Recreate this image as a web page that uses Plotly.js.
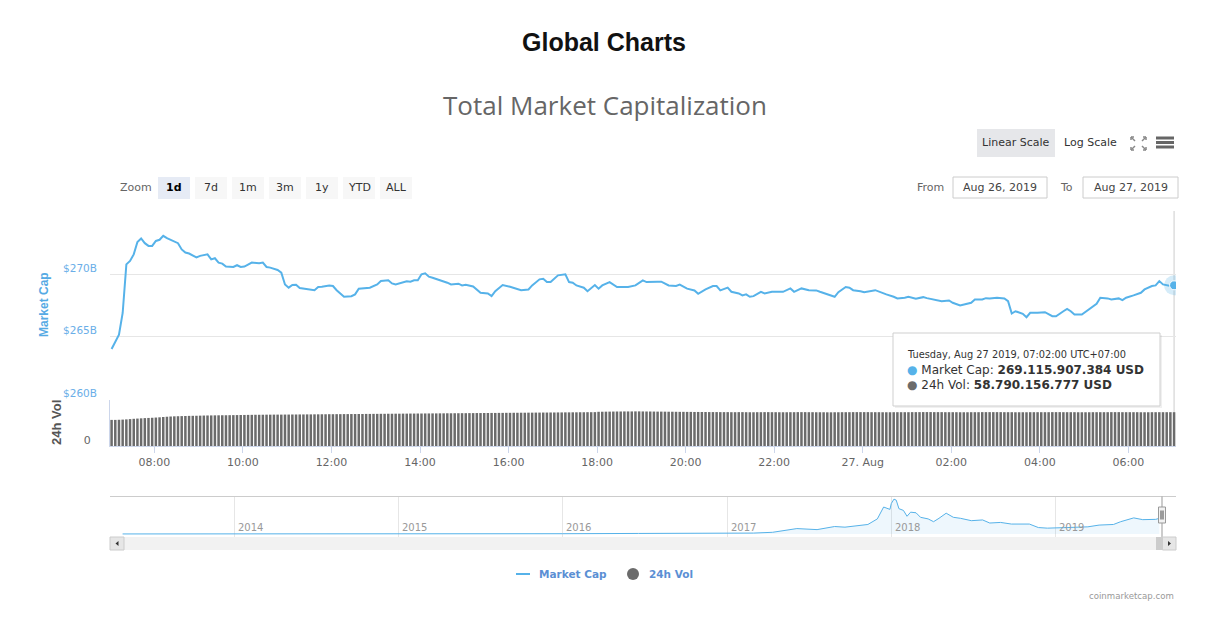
<!DOCTYPE html>
<html><head><meta charset="utf-8">
<script src="https://cdn.plot.ly/plotly-3.0.1.min.js"></script>
<style>html,body{margin:0;padding:0;background:#fff;}#chart{width:1220px;height:618px;}</style>
</head><body><div id="chart"></div>
<script>
// ---------- DATA ----------
// Market cap (USD billions), sampled at 5-minute step indices from 2019-08-26 07:02 (UTC+07:00)
const mcapStep = [0,2,3,4,5,6,7,8,9,10,11,12,13,14,15,17,18,19,20,21,22,23,24,26,27,28,29,30,31,33,34,35,36,38,40,41,42,43,45,46,47,48,49,50,51,53,55,56,57,59,60,61,62,63,65,66,67,69,70,72,73,75,76,77,79,80,81,82,83,84,85,86,87,89,90,91,92,94,95,96,98,99,100,102,103,104,106,108,109,111,113,114,116,117,118,119,121,123,124,125,126,128,129,131,132,133,135,137,140,142,144,145,148,149,151,153,154,156,158,159,161,163,164,165,167,168,170,171,172,173,174,176,177,179,182,183,184,185,187,189,191,192,194,196,197,199,200,201,203,204,207,208,210,212,213,215,216,218,220,221,223,225,227,228,230,231,233,234,236,237,238,240,242,243,244,245,247,248,249,251,253,255,256,258,259,260,261,263,265,267,268,270,271,273,274,275,277,279,280,282,283,284,285,287,288];
const mcapB = [264.01,265.16,266.9,270.8,271.07,271.6,272.6,272.88,272.5,272.28,
272.28,272.68,272.77,273.09,272.9,272.63,272.5,272.0,271.75,271.67,
271.48,271.35,271.48,271.6,271.2,271.29,270.94,270.86,270.62,270.59,
270.73,270.59,270.62,270.94,270.89,270.94,270.59,270.54,270.35,270.14,
269.19,268.93,269.14,269.17,268.9,268.79,268.73,268.98,269.0,269.11,
269.06,268.73,268.47,268.2,268.25,268.39,268.85,268.87,268.93,269.19,
269.46,269.52,269.27,269.19,269.38,269.44,269.41,269.52,269.52,270.0,
270.08,269.81,269.73,269.54,269.46,269.33,269.19,269.25,269.11,269.17,
269.03,268.79,268.52,268.47,268.25,268.65,269.14,269.0,268.93,268.73,
268.79,269.11,269.6,269.65,269.38,269.38,269.92,270.0,269.38,269.33,
269.11,268.93,268.65,269.14,268.85,269.11,269.38,268.98,268.98,269.11,
269.52,269.38,269.41,269.41,269.11,269.06,269.17,268.85,268.71,268.44,
268.79,269.06,269.06,268.71,268.93,268.6,268.47,268.31,268.39,268.2,
268.25,268.6,268.47,268.6,268.6,268.71,268.87,268.6,268.87,268.73,
268.71,268.6,268.39,268.2,268.57,268.98,268.93,268.73,268.65,268.57,
268.73,268.6,268.39,268.2,268.07,268.12,268.2,268.04,268.17,268.09,
267.98,267.85,267.9,267.72,267.5,267.58,267.72,267.98,267.98,268.09,
268.07,268.12,268.07,267.85,266.86,267.04,266.83,266.56,266.91,266.91,
266.96,266.64,266.64,267.04,267.23,267.04,266.78,266.78,267.18,267.64,
268.12,268.07,267.98,268.07,267.93,268.12,268.31,268.52,268.79,269.06,
269.11,269.46,269.19,269.06,269.12];

// 24h volume (USD billions), one bar every 5 minutes from 07:02 (rows = hours)
const volB = [
45.4,45.4,45.6,45.9,46.3,46.8,47.3,47.7,48.1,48.5,48.8,49.1,
49.5,49.9,50.4,50.9,51.3,51.6,51.8,52.0,52.2,52.4,52.5,52.6,
52.8,53.0,53.1,53.2,53.3,53.4,53.5,53.5,53.6,53.7,53.8,53.9,
54.0,54.1,54.2,54.3,54.3,54.4,54.5,54.5,54.6,54.6,54.6,54.7,
54.7,54.8,54.8,54.9,54.9,55.0,55.0,55.1,55.1,55.2,55.2,55.3,
55.3,55.4,55.4,55.5,55.5,55.6,55.6,55.7,55.7,55.8,55.8,55.9,
55.9,56.0,56.0,56.1,56.1,56.2,56.2,56.3,56.3,56.4,56.4,56.5,
56.5,56.6,56.6,56.7,56.7,56.8,56.8,56.9,56.9,57.0,57.0,57.1,
57.1,57.2,57.2,57.3,57.3,57.4,57.4,57.5,57.5,57.6,57.6,57.7,
57.7,57.8,57.8,57.9,57.9,58.0,58.0,58.1,58.1,58.2,58.2,58.3,
58.3,58.4,58.4,58.5,58.5,58.6,58.6,58.7,58.7,58.8,58.8,58.9,
59.5,59.6,59.7,59.8,59.9,60.0,60.0,60.1,60.1,60.1,60.2,60.2,
60.1,60.0,60.0,59.9,59.8,59.8,59.7,59.6,59.6,59.5,59.4,59.4,
59.3,59.3,59.2,59.2,59.1,59.1,59.0,59.0,59.0,58.9,58.9,58.9,
58.8,58.8,58.9,58.9,58.8,58.7,58.7,58.8,58.8,58.9,58.9,58.8,
58.8,58.7,58.7,58.7,58.8,58.8,58.9,58.9,58.9,58.8,58.8,58.7,
58.7,58.7,58.6,58.6,58.7,58.7,58.8,58.8,58.8,58.9,58.9,58.9,
58.9,58.9,58.8,58.8,58.8,58.7,58.7,58.7,58.8,58.8,58.8,58.8,
58.8,58.9,58.9,58.9,59.0,59.0,59.0,58.9,58.9,58.9,58.8,58.8,
58.8,58.8,58.7,58.7,58.7,58.8,58.8,58.8,58.9,58.9,58.9,58.9,
58.9,58.9,58.8,58.8,58.8,58.7,58.7,58.7,58.7,58.8,58.8,58.8,
58.8,58.8,58.8,58.9,58.9,58.9,58.8,58.8,58.8,58.8,58.7,58.7,
58.7,58.7,58.8,58.8,58.8,58.8,58.8,58.9,58.9,58.9,58.8,58.8,
58.8,58.8,58.8,58.7,58.7,58.7,58.8,58.8,58.8,58.8,58.8,58.8,
58.79];

// Navigator: full-history market cap (USD billions)
const navDates = ['2013-04-28','2013-07-01','2013-10-01','2013-11-30','2014-01-15','2014-04-01','2014-07-01','2014-10-01','2015-01-15','2015-07-01','2015-11-05','2016-01-01','2016-06-18','2016-10-01','2017-01-01','2017-03-01','2017-04-12','2017-06-05','2017-07-20','2017-08-28','2017-09-20','2017-11-10','2017-12-01','2017-12-15','2017-12-29','2018-01-01','2018-01-07','2018-01-12','2018-01-18','2018-01-28','2018-02-05','2018-02-13','2018-02-25','2018-03-07','2018-03-24','2018-04-05','2018-04-17','2018-05-03','2018-05-19','2018-06-04','2018-06-28','2018-07-23','2018-08-08','2018-09-01','2018-09-25','2018-11-04','2018-11-24','2018-12-14','2019-01-26','2019-03-14','2019-04-08','2019-05-10','2019-05-26','2019-06-24','2019-07-14','2019-08-12','2019-08-20'];
const navCapB = [1.5,1.2,1.6,14,11,6.5,8.5,5.5,3.2,4.2,6.5,7,13,11,18,22,40,127,103,175,160,223,353,631,576,712,816,792,593,552,415,511,497,391,353,288,367,487,391,367,312,329,257,271,233,233,151,137,151,168,209,223,288,377,336,343,367];
const navYears = ['2014-01-01','2015-01-01','2016-01-01','2017-01-01','2018-01-01','2019-01-01'];
const navYearLabels = ['2014','2015','2016','2017','2018','2019'];

// Axis ticks
const xTickVals = ['2019-08-26 08:00','2019-08-26 10:00','2019-08-26 12:00','2019-08-26 14:00','2019-08-26 16:00','2019-08-26 18:00','2019-08-26 20:00','2019-08-26 22:00','2019-08-27 00:00','2019-08-27 02:00','2019-08-27 04:00','2019-08-27 06:00'];
const xTickText = ['08:00','10:00','12:00','14:00','16:00','18:00','20:00','22:00','27. Aug','02:00','04:00','06:00'];
const capTickVals = [260,265,270,275];
const capTickText = ['$260B','$265B','$270B',''];
const zoomButtons = ['1d','7d','1m','3m','1y','YTD','ALL'];
const tooltipHeader = 'Tuesday, Aug 27 2019, 07:02:00 UTC+07:00';
const tooltipCap = '269.115.907.384 USD';
const tooltipVol = '58.790.156.777 USD';

// ---------- BUILD ----------
const W = 1220, H = 618;
const px = x => x / W, py = y => 1 - y / H;
const base = Date.UTC(2019, 7, 26, 7, 2);
const fmt = ms => new Date(ms).toISOString().slice(0, 19).replace('T', ' ');
const stepTime = k => fmt(base + k * 5 * 60000);
const mcapX = mcapStep.map(stepTime);
const volX = volB.map((v, i) => stepTime(i));
const lastX = mcapX[mcapX.length - 1], lastY = mcapB[mcapB.length - 1];

const BLUE = '#56b2e9', GRAY = '#6b6b6b';
const FF = 'DejaVu Sans, sans-serif';

const traces = [
  {type:'bar', x:volX, y:volB, xaxis:'x', yaxis:'y2', marker:{color:GRAY}, hoverinfo:'skip'},
  {type:'scatter', mode:'lines', x:mcapX, y:mcapB, xaxis:'x', yaxis:'y', line:{color:BLUE, width:2}, hoverinfo:'skip'},
  {type:'scatter', mode:'markers', x:[lastX], y:[lastY], xaxis:'x', yaxis:'y', marker:{size:20, color:'rgba(86,178,233,0.25)'}, hoverinfo:'skip'},
  {type:'scatter', mode:'markers', x:[lastX], y:[lastY], xaxis:'x', yaxis:'y', marker:{size:9, color:BLUE, line:{color:'#fff', width:1}}, hoverinfo:'skip'},
  {type:'scatter', mode:'lines', x:navDates, y:navCapB, xaxis:'x2', yaxis:'y3', line:{color:BLUE, width:1}, fill:'tozeroy', fillcolor:'rgba(86,178,233,0.10)', hoverinfo:'skip'}
];

const shapes = [];
const ann = [];
function rect(x0,y0,x1,y1,fill,line,lw){shapes.push({type:'rect',xref:'paper',yref:'paper',x0:px(x0),x1:px(x1),y0:py(y1),y1:py(y0),fillcolor:fill,line:{color:line||fill,width:lw===undefined?1:lw},layer:'above'});}
function line(x0,y0,x1,y1,color,w){shapes.push({type:'line',xref:'paper',yref:'paper',x0:px(x0),x1:px(x1),y0:py(y0),y1:py(y1),line:{color:color,width:w||1},layer:'above'});}
function text(t,x,y,opts){ann.push(Object.assign({text:t,xref:'paper',yref:'paper',x:px(x),y:py(y),showarrow:false,xanchor:'center',yanchor:'middle',font:{family:FF,size:11,color:'#333'}},opts||{}));}

// Header
text('<b>Global Charts</b>',604,42,{font:{family:'Liberation Sans, Arial, sans-serif',size:25,color:'#111'}});

// Top-right buttons
rect(977,129,1055,157,'#e6e7ea','#e6e7ea',0);
text('Linear Scale',1016,142,{font:{family:FF,size:11,color:'#333'}});
text('Log Scale',1090,142,{font:{family:FF,size:11,color:'#333'}});
// fullscreen icon
[[1131,137,1135,141],[1146,137,1142,141],[1131,150,1135,146],[1146,150,1142,146]].forEach(a=>line(a[0],a[1],a[2],a[3],'#888',1.5));
line(1131,137,1134,137,'#888',1.5);line(1131,137,1131,140,'#888',1.5);
line(1146,137,1143,137,'#888',1.5);line(1146,137,1146,140,'#888',1.5);
line(1131,150,1134,150,'#888',1.5);line(1131,150,1131,147,'#888',1.5);
line(1146,150,1143,150,'#888',1.5);line(1146,150,1146,147,'#888',1.5);
// menu icon
[138,142.5,147].forEach(y=>line(1156,y,1174,y,'#666',3));

// Zoom buttons
text('Zoom',136,188,{font:{family:FF,size:11,color:'#666'}});
zoomButtons.forEach((b,i)=>{
  const x0 = 158 + i*37;
  rect(x0,177,x0+32,199,i===0?'#e6ebf5':'#f7f7f7',i===0?'#e6ebf5':'#f7f7f7',0);
  text(i===0?'<b>'+b+'</b>':b,x0+16,188,{font:{family:FF,size:11,color:i===0?'#000':'#333'}});
});
// From / To
text('From',931,187,{font:{family:FF,size:11,color:'#666'}});
rect(953,177,1047,198,'#fff','#cccccc',1);
text('Aug 26, 2019',1000,187.5,{font:{family:FF,size:11,color:'#444'}});
text('To',1066,187,{font:{family:FF,size:11,color:'#666'}});
rect(1083,177,1178,198,'#fff','#cccccc',1);
text('Aug 27, 2019',1130.5,187.5,{font:{family:FF,size:11,color:'#444'}});

// Axis titles
text('<b>Market Cap</b>',44,305,{textangle:-90,font:{family:'Liberation Sans, Arial, sans-serif',size:12,color:'#55aae4'}});
text('<b>24h Vol</b>',56,423,{textangle:-90,font:{family:'Liberation Sans, Arial, sans-serif',size:13,color:'#555'}});

// Crosshair at hovered point
shapes.push({type:'line',xref:'x',yref:'paper',x0:lastX,x1:lastX,y0:py(446),y1:py(211),line:{color:'#cccccc',width:1},layer:'below'});

// Tooltip
rect(895,335,1162,408,'rgba(0,0,0,0.06)','rgba(0,0,0,0.06)',0);
rect(893,333,1160,406,'rgba(255,255,255,0.97)','#cfcfcf',1);
text(tooltipHeader,905,354,{xanchor:'left',font:{family:FF,size:9.8,color:'#333'}});
text('<span style="color:'+BLUE+'">●</span> Market Cap: <b>'+tooltipCap+'</b>',905,369.5,{xanchor:'left',font:{family:FF,size:12,color:'#333'}});
text('<span style="color:'+GRAY+'">●</span> 24h Vol: <b>'+tooltipVol+'</b>',905,385.5,{xanchor:'left',font:{family:FF,size:12,color:'#333'}});

// Navigator
line(110,496.5,1176,496.5,'#cccccc',1);
navYears.forEach((d,i)=>ann.push({text:navYearLabels[i],xref:'x2',yref:'paper',x:d,y:py(527),xanchor:'left',yanchor:'middle',xshift:2,showarrow:false,font:{family:FF,size:10,color:'#999'}}));
line(1162,496.5,1162,537,'#999',1);
rect(1158.5,507,1165.5,523,'#f2f2f2','#999',1);
line(1161,510.5,1161,519.5,'#444',1);line(1163,510.5,1163,519.5,'#444',1);
// Scrollbar
rect(110,537,1176,550,'#f2f2f2','#f2f2f2',0);
rect(110,537,124,550,'#e6e6e6','#cccccc',1);
rect(1156,537,1162.5,550,'#cccccc','#cccccc',0);
rect(1162.5,537,1176,550,'#e6e6e6','#cccccc',1);
shapes.push({type:'path',xref:'paper',yref:'paper',path:`M ${px(115.5)} ${py(543.5)} L ${px(118.5)} ${py(541)} L ${px(118.5)} ${py(546)} Z`,fillcolor:'#333',line:{color:'#333',width:0},layer:'above'});
shapes.push({type:'path',xref:'paper',yref:'paper',path:`M ${px(1171)} ${py(543.5)} L ${px(1168)} ${py(541)} L ${px(1168)} ${py(546)} Z`,fillcolor:'#333',line:{color:'#333',width:0},layer:'above'});

// Legend
line(516,574,530,574,BLUE,2);
text('<b>Market Cap</b>',537,574,{xanchor:'left',font:{family:FF,size:10.5,color:'#5b8fd4'}});
shapes.push({type:'circle',xref:'paper',yref:'paper',x0:px(627),x1:px(639),y0:py(580),y1:py(568),fillcolor:GRAY,line:{color:GRAY,width:0}});
text('<b>24h Vol</b>',647,574,{xanchor:'left',font:{family:FF,size:10.5,color:'#5b8fd4'}});

// Credits
text('coinmarketcap.com',1176,596,{xanchor:'right',font:{family:FF,size:8.6,color:'#999'}});

const layout = {
  width:W, height:H, margin:{l:0,r:0,t:0,b:0},
  paper_bgcolor:'#fff', plot_bgcolor:'rgba(0,0,0,0)',
  showlegend:false, hovermode:false, bargap:0.32,
  font:{family:FF,size:11,color:'#666'},
  title:{text:'Total Market Capitalization', x:px(605), y:py(106), xref:'paper', yref:'paper', xanchor:'center', yanchor:'middle', font:{family:'Open Sans, sans-serif', size:26, color:'#666'}},
  xaxis:{type:'date', domain:[px(110),px(1176)], range:['2019-08-26 06:59:50','2019-08-27 07:04:37'], anchor:'y2',
    tickvals:xTickVals, ticktext:xTickText, ticks:'outside', ticklen:6, tickcolor:'#ccd6eb', showline:true, linecolor:'#ccd6eb',
    showgrid:false, zeroline:false, tickfont:{family:FF,size:11,color:'#666'}, fixedrange:true},
  yaxis:{domain:[py(399),py(212)], range:[260,275], anchor:'x', tickvals:capTickVals, ticktext:capTickText,
    gridcolor:'#e6e6e6', showline:false, zeroline:false, ticks:'', tickfont:{family:FF,size:10.5,color:'#6aaee8'},
    ticklabelshift:-6, ticklabelstandoff:12, fixedrange:true},
  yaxis2:{domain:[py(446),py(400)], range:[0,80], anchor:'x', tickvals:[0], ticktext:['0'], showgrid:false, zeroline:false,
    showline:true, linecolor:'#ccd6eb', ticks:'', tickfont:{family:FF,size:11,color:'#666'}, ticklabelshift:-6, ticklabelstandoff:16, fixedrange:true},
  xaxis2:{type:'date', domain:[px(110),px(1176)], range:['2013-03-31','2019-09-26'], anchor:'y3', tickvals:navYears,
    showticklabels:false, showgrid:true, gridcolor:'#e6e6e6', ticks:'', showline:false, zeroline:false, fixedrange:true},
  yaxis3:{domain:[py(537),py(497)], range:[-70,866], anchor:'x2', visible:false, fixedrange:true},
  shapes:shapes, annotations:ann
};
Plotly.newPlot('chart', traces, layout, {displayModeBar:false, staticPlot:true});
</script></body></html>
